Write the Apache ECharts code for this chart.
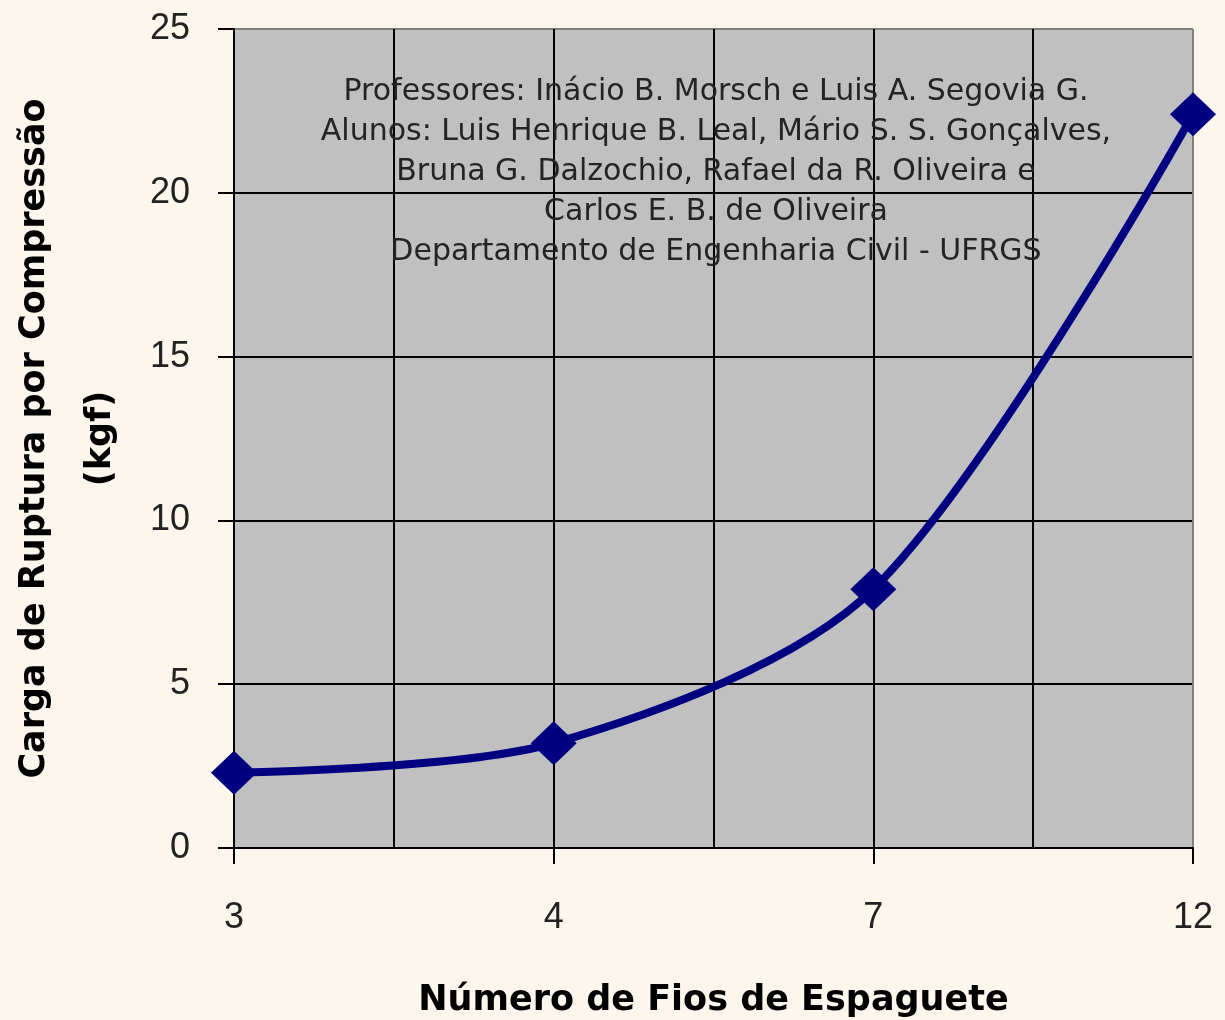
<!DOCTYPE html>
<html>
<head>
<meta charset="utf-8">
<script src="https://cdn.jsdelivr.net/npm/echarts@6/dist/echarts.min.js"></script>
<style>
html,body{margin:0;padding:0;background:#fdf6ec;}
#c{width:1225px;height:1020px;}
</style>
</head>
<body>
<div id="c"></div>
<script>
// Data
const categories = ['3', '4', '7', '12'];
const values = [2.3, 3.2, 7.9, 22.4];
const xAxisTitle = 'Número de Fios de Espaguete';
const yAxisTitle = 'Carga de Ruptura por Compressão\n(kgf)';
const annotation = [
  'Professores: Inácio B. Morsch e Luis A. Segovia G.',
  'Alunos: Luis Henrique B. Leal, Mário S. S. Gonçalves,',
  'Bruna G. Dalzochio, Rafael da R. Oliveira e',
  'Carlos E. B. de Oliveira',
  'Departamento de Engenharia Civil - UFRGS'
];

const seriesData = values.map((v, i) => [i, v]);
const catIdx = categories.map((c, i) => i);

const chart = echarts.init(document.getElementById('c'));
chart.setOption({
  backgroundColor: '#fdf6ec',
  animation: false,
  grid: { left: 234, right: 32, top: 29, bottom: 172, outerBoundsMode: 'none', containLabel: false,
    show: true, backgroundColor: '#c0c0c0', borderColor: '#808080', borderWidth: 1 },
  xAxis: [{
    type: 'value', min: 0, max: categories.length - 1, interval: 0.5,
    name: xAxisTitle, nameLocation: 'middle', nameGap: 135,
    nameTextStyle: { fontFamily: 'DejaVu Sans', fontWeight: 'bold', fontSize: 35, color: '#000' },
    axisLine: { show: true, onZero: false, lineStyle: { color: '#000', width: 2 } },
    axisTick: { show: true, length: 16, customValues: catIdx, lineStyle: { color: '#000', width: 2 } },
    axisLabel: { customValues: catIdx, formatter: v => categories[Math.round(v)] ?? '', margin: 52,
      fontFamily: 'Liberation Sans', fontSize: 36, color: '#222' },
    splitLine: { show: false }
  }, {
    type: 'value', min: 0, max: categories.length - 1, interval: 0.5, position: 'bottom',
    axisLine: { show: false }, axisTick: { show: false }, axisLabel: { show: false },
    splitLine: { show: true, lineStyle: { color: ['#000', '#000', '#000', '#000', '#000', '#000', '#808080'], width: 2 } }
  }],
  yAxis: {
    type: 'value', min: 0, max: 25, interval: 5,
    name: yAxisTitle, nameLocation: 'middle', nameGap: 100, nameRotate: 90,
    nameTextStyle: { fontFamily: 'DejaVu Sans', fontWeight: 'bold', fontSize: 35, color: '#000', lineHeight: 66, align: 'center' },
    axisLine: { show: true, lineStyle: { color: '#000', width: 2 } },
    axisTick: { show: true, length: 16, lineStyle: { color: '#000', width: 2 } },
    axisLabel: { margin: 44, fontFamily: 'Liberation Sans', fontSize: 36, color: '#222' },
    splitLine: { show: true, lineStyle: { color: ['#000', '#000', '#000', '#000', '#000', '#808080'], width: 2 } }
  },
  graphic: [{
    type: 'text', left: 716 - 400, top: 72, z: 10,
    style: { text: annotation.join('\n'), x: 0, width: 800, align: 'center', textAlign: 'center',
      fontFamily: 'DejaVu Sans', fontSize: 30, lineHeight: 40, fill: '#242424' }
  }],
  series: [{
    type: 'line', data: seriesData, smooth: 0.3, xAxisIndex: 0,
    symbol: 'diamond', symbolSize: [46, 44],
    lineStyle: { color: '#000080', width: 8 },
    itemStyle: { color: '#000080' },
    z: 5
  }]
});
</script>
</body>
</html>
